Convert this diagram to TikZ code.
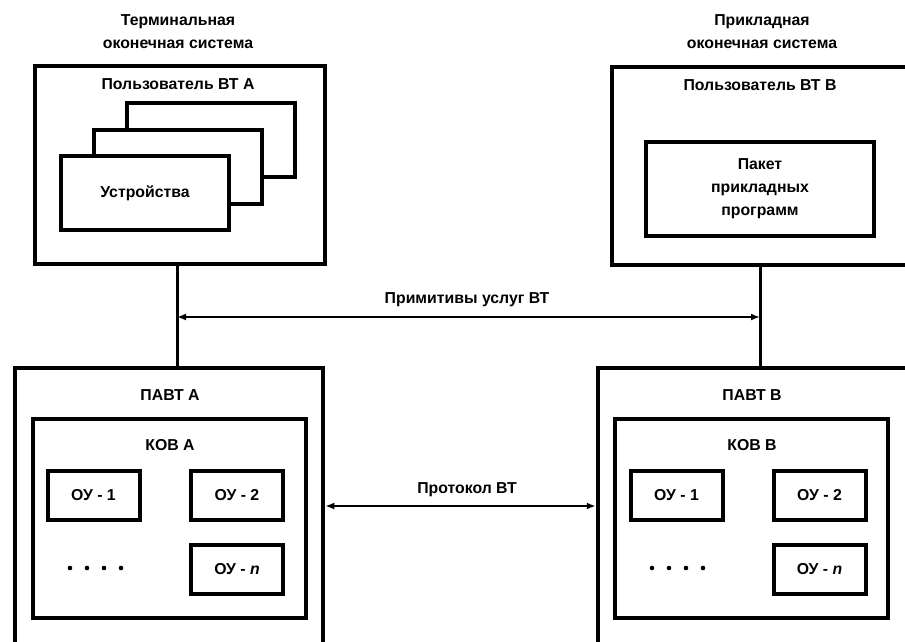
\documentclass[tikz,border=0pt]{standalone}
\usepackage{fontspec}
\setmainfont{Liberation Sans}
\usetikzlibrary{arrows.meta}
\tikzset{
	box/.style={draw, line width=0.9mm, fill=white},
	ou/.style={draw, line width=0.8mm, minimum width=18.4mm, minimum height=9.8mm},
	lbl/.style={font=\bfseries\fontsize{9}{13}\selectfont, align=center},
	conn/.style={line width=0.6mm},
	arr/.style={line width=0.4mm, {Latex[length=1.8mm,width=1.4mm]}-{Latex[length=1.8mm,width=1.4mm]}}
}
\begin{document}
\begin{tikzpicture}[x=0.2mm, y=-0.2mm]
	\useasboundingbox (0,0) rectangle (905,642);
	\clip (0,0) rectangle (905,642);
	\node[lbl] (hA) at (178,32) {Терминальная\\оконечная система};
	\node[lbl] (hB) at (762,32) {Прикладная\\оконечная система};
	\node[box, minimum width=58mm, minimum height=39.6mm] (UA) at (180,165) {};
	\node[lbl] (tUA) at (178,84) {Пользователь ВТ А};
	\node[box, minimum width=33.6mm, minimum height=14.8mm] (d3) at (211,140) {};
	\node[box, minimum width=33.6mm, minimum height=14.8mm] (d2) at (178,167) {};
	\node[box, minimum width=33.6mm, minimum height=14.8mm, lbl] (d1) at (145,193) {Устройства};
	\node[box, minimum width=63.6mm, minimum height=39.6mm] (UB) at (771,166) {};
	\node[lbl] (tUB) at (760,85) {Пользователь ВТ В};
	\node[box, minimum width=45.6mm, minimum height=18.8mm, lbl] (pak) at (760,189) {Пакет\\прикладных\\программ};
	\node[box, minimum width=61.6mm, minimum height=58.4mm] (PA) at (169,514) {};
	\node[lbl] (tPA) at (170,395) {ПАВТ А};
	\node[box, minimum width=54.6mm, minimum height=39.8mm] (KA) at (169.5,518.5) {};
	\node[lbl] (tKA) at (170,445) {КОВ А};
	\node[ou, lbl] (a1) at (93.5,495.5) {ОУ - 1};
	\node[ou, lbl] (a2) at (237,495.5) {ОУ - 2};
	\node[ou, lbl] (an) at (237,569) {ОУ - \textit{n}};
	\foreach \i in {0,...,3}
		\fill (70+\i*17,568) circle (1.3pt);
	\node[box, minimum width=66.4mm, minimum height=58.4mm] (PB) at (764,514) {};
	\node[lbl] (tPB) at (752,395) {ПАВТ В};
	\node[box, minimum width=54.6mm, minimum height=39.8mm] (KB) at (751.5,518.5) {};
	\node[lbl] (tKB) at (752,445) {КОВ В};
	\node[ou, lbl] (b1) at (676.5,495.5) {ОУ - 1};
	\node[ou, lbl] (b2) at (819.5,495.5) {ОУ - 2};
	\node[ou, lbl] (bn) at (819.5,569) {ОУ - \textit{n}};
	\foreach \i in {0,...,3}
		\fill (652+\i*17,568) circle (1.3pt);
	\coordinate (ca) at (177,317);
	\coordinate (cb) at (760,317);
	\draw[conn] (UA.south -| ca) -- (PA.north -| ca);
	\draw[conn] (UB.south -| cb) -- (PB.north -| cb);
	\draw[arr] (ca) -- (cb);
	\node[lbl] (prim) at (467,300) {Примитивы услуг ВТ};
	\draw[arr] (PA.east |- 0,506) -- (PB.west |- 0,506);
	\node[lbl] (prot) at (467,490) {Протокол ВТ};
\end{tikzpicture}
\end{document}
